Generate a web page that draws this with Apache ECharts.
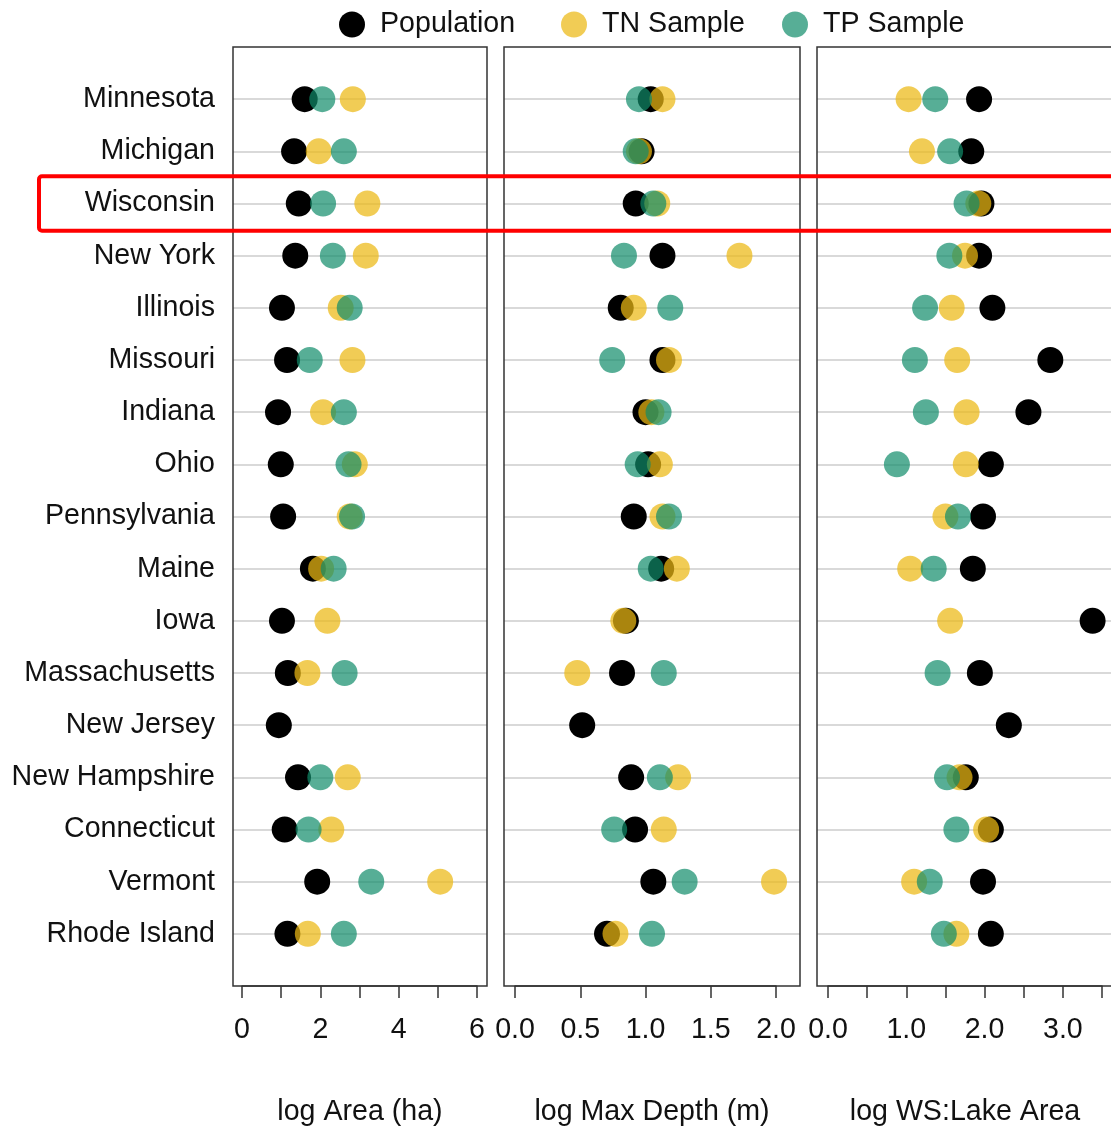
<!DOCTYPE html>
<html>
<head>
<meta charset="utf-8">
<script src="https://cdn.jsdelivr.net/npm/echarts@6/dist/echarts.min.js"></script>
<style>
html,body{margin:0;padding:0;background:#fff;}
#c{width:1111px;height:1126px;}
</style>
</head>
<body>
<div id="c"></div>
<script>
const states = ['Minnesota','Michigan','Wisconsin','New York','Illinois','Missouri','Indiana','Ohio','Pennsylvania','Maine','Iowa','Massachusetts','New Jersey','New Hampshire','Connecticut','Vermont','Rhode Island'];
const groups = ['Population','TN Sample','TP Sample'];

const areaPop = [1.60,1.33,1.45,1.36,1.02,1.15,0.92,0.99,1.05,1.81,1.02,1.17,0.94,1.43,1.09,1.92,1.16];
const areaTN  = [2.83,1.96,3.20,3.16,2.52,2.82,2.07,2.88,2.75,2.02,2.18,1.67,null,2.70,2.28,5.06,1.68];
const areaTP  = [2.05,2.60,2.07,2.32,2.75,1.73,2.60,2.72,2.81,2.34,null,2.62,null,2.00,1.70,3.30,2.60];

const depthPop = [1.04,0.97,0.925,1.13,0.81,1.13,1.00,1.02,0.91,1.12,0.85,0.82,0.515,0.89,0.92,1.06,0.705];
const depthTN  = [1.13,0.95,1.09,1.72,0.91,1.18,1.045,1.11,1.13,1.24,0.83,0.477,null,1.25,1.14,1.985,0.77];
const depthTP  = [0.95,0.925,1.06,0.835,1.19,0.745,1.10,0.94,1.18,1.04,null,1.14,null,1.11,0.76,1.30,1.05];

const wsPop = [1.93,1.83,1.96,1.93,2.10,2.84,2.56,2.08,1.98,1.85,3.38,1.94,2.31,1.76,2.08,1.98,2.08];
const wsTN  = [1.03,1.20,1.92,1.75,1.58,1.65,1.77,1.76,1.50,1.05,1.56,null,null,1.68,2.02,1.10,1.64];
const wsTP  = [1.37,1.56,1.77,1.55,1.24,1.11,1.25,0.88,1.66,1.35,null,1.40,null,1.52,1.64,1.30,1.48];

const panelTitles = ['log Area (ha)','log Max Depth (m)','log WS:Lake Area'];
const highlightState = 'Wisconsin';

const panels = [
  [areaPop, areaTN, areaTP],
  [depthPop, depthTN, depthTP],
  [wsPop, wsTN, wsTP]
];

const FONT = '"Liberation Sans", Arial, sans-serif';
const FS = 28.6;
const colors = ['#000000','rgba(235,185,20,0.72)','rgba(15,140,105,0.7)'];

// layout (pixels)
const TOP = 47, BOTTOM_Y = 986, H = BOTTOM_Y - TOP;
const boxes = [
  {left:233, width:254, axLeft:242, axWidth:235, amin:0, amax:6, interval:1},
  {left:504, width:296, axLeft:515, axWidth:261, amin:0, amax:2, interval:0.5},
  {left:817, width:300, axLeft:828, axWidth:274, amin:0, amax:3.5, interval:0.5}
];
const labelFmt = [
  v => (Math.round(v) % 2 === 0 ? String(Math.round(v)) : ''),
  v => v.toFixed(1),
  v => (Math.abs(v - Math.round(v)) < 1e-9 ? v.toFixed(1) : '')
];

const grid = [], xAxis = [], yAxis = [], series = [];
boxes.forEach((b, p) => {
  const unit = b.axWidth / (b.amax - b.amin);
  const bmin = b.amin - (b.axLeft - b.left) / unit;
  const bmax = b.amax + (b.left + b.width - b.axLeft - b.axWidth) / unit;
  grid.push({left:b.left, top:TOP, width:b.width, height:H, show:true, z:5,
    outerBoundsMode:'none', containLabel:false,
    borderColor:'#333', borderWidth:1.5, backgroundColor:'rgba(0,0,0,0)'});
  xAxis.push({type:'value', gridIndex:p, min:bmin, max:bmax,
    axisLine:{show:false}, axisTick:{show:false}, axisLabel:{show:false}, splitLine:{show:false},
    name: p < 2 ? panelTitles[p] : '', nameLocation:'middle', nameGap:112,
    nameTextStyle:{fontFamily:FONT, fontSize:FS, color:'#111', verticalAlign:'top'}});
  yAxis.push({type:'value', gridIndex:p, inverse:true, min:0, max:states.length + 1, interval:1,
    axisLine:{show:false}, axisTick:{show:false},
    axisLabel:{show: p === 0, margin:18, fontFamily:FONT, fontSize:FS, color:'#111',
      formatter: v => (v >= 1 && v <= states.length ? states[v - 1] : '')},
    splitLine:{show:true, showMinLine:false, showMaxLine:false, lineStyle:{color:'#d9d9d9', width:2}}});
});
boxes.forEach((b, p) => {
  const gi = p + 3;
  grid.push({left:b.axLeft, top:TOP, width:b.axWidth, height:H, show:false,
    outerBoundsMode:'none', containLabel:false});
  xAxis.push({type:'value', gridIndex:gi, min:b.amin, max:b.amax, interval:b.interval, offset:4,
    axisLine:{show:true, lineStyle:{color:'#333', width:1.5}},
    axisTick:{show:true, length:12, lineStyle:{color:'#333', width:1.5}},
    axisLabel:{margin:26, fontFamily:FONT, fontSize:FS, color:'#111', formatter: labelFmt[p],
      showMinLabel:true, showMaxLabel:true},
    splitLine:{show:false},
    name: p === 2 ? panelTitles[p] : '', nameLocation:'middle', nameGap:108,
    nameTextStyle:{fontFamily:FONT, fontSize:FS, color:'#111', verticalAlign:'top'}});
  yAxis.push({type:'value', gridIndex:gi, show:false, min:0, max:1});
});

panels.forEach((vals, p) => {
  vals.forEach((arr, g) => {
    const data = [];
    arr.forEach((v, i) => { if (v !== null) data.push([v, i + 1]); });
    series.push({type:'scatter', name:groups[g], xAxisIndex:p, yAxisIndex:p,
      symbol:'circle', symbolSize:26, z:2 + g,
      itemStyle:{color:colors[g], opacity:1}, data:data,
      emphasis:{disabled:true}});
  });
});

const legendLefts = [339, 561, 782];
const legend = groups.map((g, i) => ({
  data:[g], left:legendLefts[i], top:10, itemWidth:46, itemHeight:26, icon:'circle',
  selectedMode:false, padding:0,
  textStyle:{fontFamily:FONT, fontSize:FS, color:'#111'}
}));

const chart = echarts.init(document.getElementById('c'), null, {renderer:'canvas'});
chart.setOption({animation:false, backgroundColor:'#fff', grid, xAxis, yAxis, series, legend});

// highlight box around the Wisconsin row, positioned via the axis scale
const row = states.indexOf(highlightState) + 1;
const yc = chart.convertToPixel({gridIndex:0}, [0, row])[1];
const half = chart.convertToPixel({gridIndex:0}, [0, row + 0.52])[1] - yc;
chart.setOption({graphic:[{type:'rect', z:100, silent:true,
  shape:{x:39, y:yc - half, width:1100, height:2 * half, r:3},
  style:{fill:'none', stroke:'#ff0000', lineWidth:4}}]});
</script>
</body>
</html>
